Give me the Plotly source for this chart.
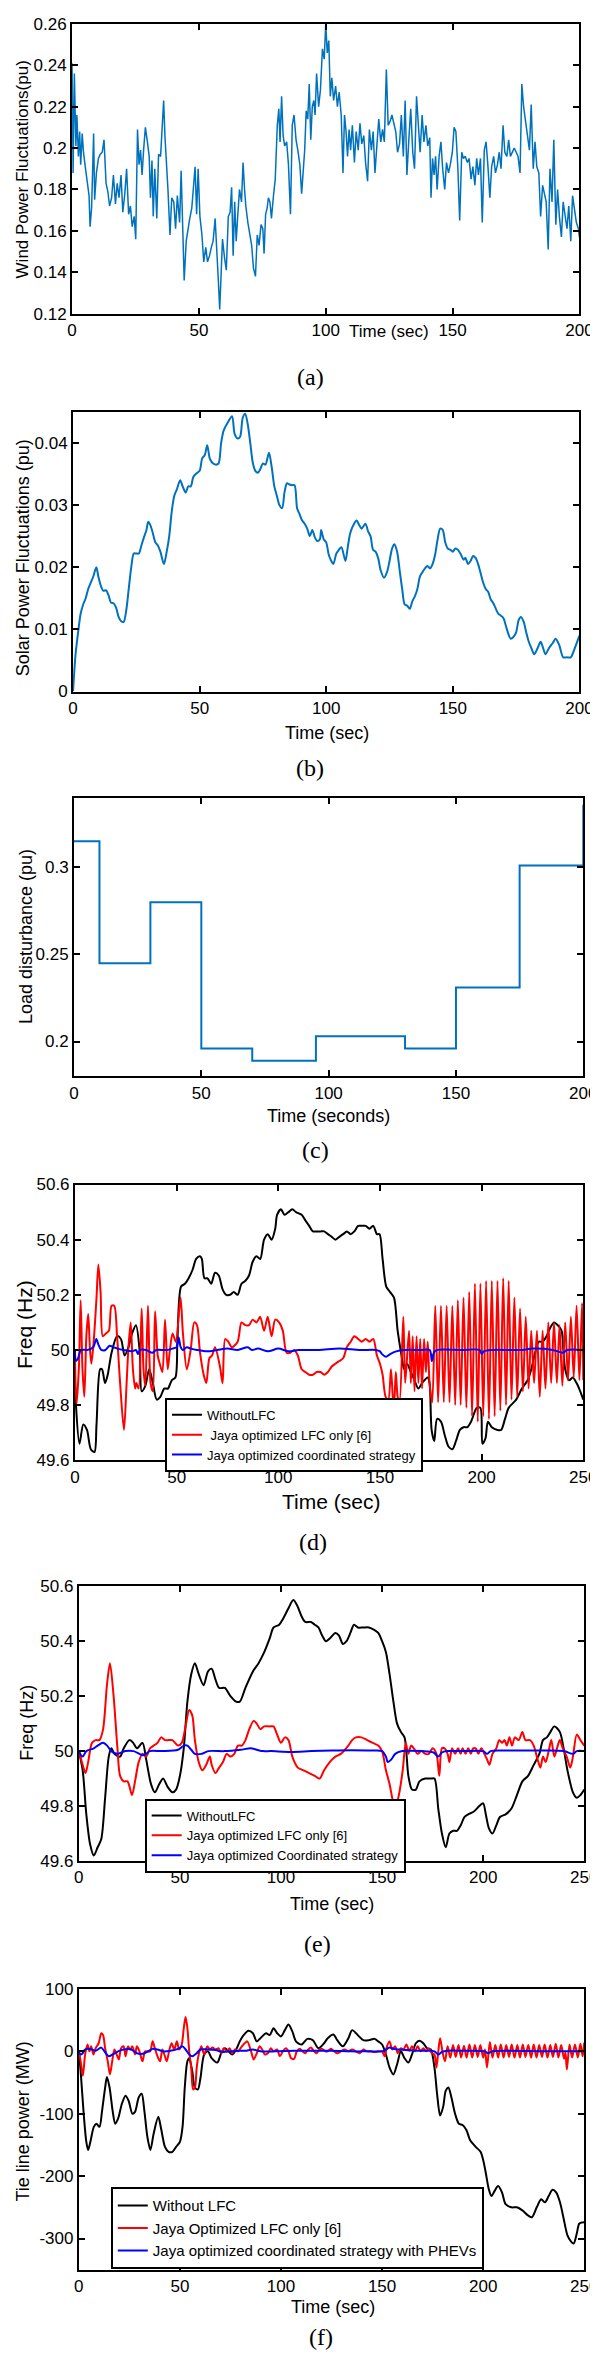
import plotly.graph_objects as go

# ---------------- data ----------------
wind_t = [0, 0.4, 0.9, 1.5, 1.9, 2.5, 3.0, 3.4, 4.0, 4.5,
          5.2, 5.9, 6.7, 7.1, 7.7, 8.5, 8.9, 9.6, 10.4, 11.1,
          11.9, 12.6, 13.4, 14.1, 14.8, 15.6, 16.3, 17.1, 17.8, 18.5,
          19.3, 20.0, 20.8, 21.5, 22.3, 23.0, 23.7, 24.5, 25.1, 25.8,
          26.4, 27.0, 27.6, 28.2, 28.9, 29.7, 30.4, 30.9, 31.5, 32.0,
          32.6, 33.4, 34.1, 34.9, 35.6, 36.1, 36.6, 37.2, 37.8, 38.6,
          39.3, 40.1, 40.8, 41.5, 42.4, 43.0, 43.6, 44.2, 45.0, 45.7,
          46.4, 47.2, 47.8, 48.5, 49.1, 49.7, 50.4, 51.2, 51.9, 52.7,
          53.4, 54.2, 54.9, 55.6, 56.4, 57.1, 57.7, 58.2, 58.8, 59.3,
          60.1, 60.8, 61.6, 62.3, 62.9, 63.5, 64.1, 64.7, 65.3, 66.0,
          66.8, 67.4, 68.0, 68.5, 69.3, 70.0, 70.8, 71.5, 72.3, 73.0,
          73.7, 74.5, 75.2, 75.7, 76.3, 76.9, 77.4, 78.0, 78.6, 79.4,
          80.1, 80.9, 81.5, 82.0, 82.6, 83.2, 83.8, 84.6, 85.3, 86.1,
          86.8, 87.5, 88.3, 89.0, 89.8, 90.5, 91.1, 91.7, 92.3, 92.9,
          93.5, 94.1, 94.7, 95.3, 95.8, 96.4, 97.2, 97.9, 98.7, 99.4,
          100.0, 100.6, 101.2, 101.8, 102.4, 103.1, 103.9, 104.6, 105.3, 106.1,
          106.8, 107.4, 108.0, 108.6, 109.2, 109.8, 110.5, 111.3, 112.0, 112.8,
          113.5, 114.2, 115.0, 115.7, 116.5, 117.2, 118.0, 118.7, 119.4, 120.2,
          120.9, 121.7, 122.4, 123.1, 123.9, 124.6, 125.4, 126.1, 126.9, 127.6,
          128.3, 129.1, 129.8, 130.6, 131.3, 132.0, 132.8, 133.5, 134.3, 135.0,
          135.8, 136.5, 137.2, 138.0, 138.7, 139.5, 140.2, 141.0, 141.5, 142.1,
          142.7, 143.3, 143.9, 144.7, 145.4, 146.1, 146.9, 147.6, 148.4, 149.1,
          149.9, 150.6, 151.3, 152.1, 152.8, 153.6, 154.3, 155.0, 155.8, 156.5,
          157.3, 158.0, 158.8, 159.5, 160.2, 161.0, 161.7, 162.5, 163.2, 163.9,
          164.7, 165.4, 166.2, 166.9, 167.7, 168.4, 169.1, 169.9, 170.6, 171.4,
          172.1, 172.8, 173.6, 174.3, 175.1, 175.8, 176.6, 177.3, 178.0, 178.8,
          179.5, 180.3, 181.0, 181.8, 182.5, 183.2, 184.0, 184.7, 185.5, 186.2,
          186.9, 187.7, 188.4, 189.2, 189.9, 190.7, 191.4, 192.1, 192.9, 193.6,
          194.4, 195.1, 195.8, 196.6, 197.3, 198.1, 198.8, 199.6, 200.0]
wind_pu = [0.241, 0.188, 0.236, 0.201, 0.216, 0.196, 0.208, 0.192, 0.207, 0.198,
           0.191, 0.183, 0.177, 0.162, 0.171, 0.207, 0.175, 0.188, 0.195, 0.197,
           0.198, 0.204, 0.183, 0.179, 0.172, 0.176, 0.187, 0.173, 0.183, 0.176,
           0.187, 0.169, 0.178, 0.190, 0.168, 0.172, 0.162, 0.167, 0.156, 0.209,
           0.192, 0.199, 0.187, 0.199, 0.210, 0.203, 0.196, 0.176, 0.194, 0.167,
           0.190, 0.166, 0.197, 0.196, 0.211, 0.223, 0.206, 0.195, 0.180, 0.158,
           0.176, 0.174, 0.161, 0.177, 0.164, 0.189, 0.158, 0.136, 0.155, 0.161,
           0.166, 0.171, 0.180, 0.191, 0.168, 0.190, 0.167, 0.158, 0.145, 0.152,
           0.145, 0.148, 0.152, 0.155, 0.166, 0.152, 0.135, 0.122, 0.147, 0.156,
           0.147, 0.141, 0.167, 0.169, 0.181, 0.148, 0.174, 0.155, 0.167, 0.180,
           0.174, 0.193, 0.180, 0.172, 0.164, 0.158, 0.153, 0.142, 0.138, 0.158,
           0.153, 0.163, 0.161, 0.149, 0.168, 0.171, 0.176, 0.174, 0.166, 0.177,
           0.185, 0.211, 0.219, 0.203, 0.225, 0.206, 0.201, 0.203, 0.192, 0.168,
           0.211, 0.216, 0.204, 0.199, 0.192, 0.178, 0.187, 0.199, 0.218, 0.214,
           0.231, 0.204, 0.220, 0.223, 0.216, 0.236, 0.220, 0.228, 0.248, 0.243,
           0.260, 0.246, 0.252, 0.225, 0.234, 0.223, 0.230, 0.220, 0.227, 0.216,
           0.188, 0.216, 0.208, 0.196, 0.209, 0.199, 0.211, 0.193, 0.208, 0.199,
           0.212, 0.202, 0.206, 0.193, 0.184, 0.209, 0.199, 0.208, 0.188, 0.201,
           0.214, 0.203, 0.209, 0.203, 0.238, 0.211, 0.213, 0.216, 0.212, 0.208,
           0.198, 0.202, 0.216, 0.196, 0.223, 0.187, 0.205, 0.219, 0.198, 0.190,
           0.225, 0.211, 0.198, 0.216, 0.203, 0.211, 0.201, 0.205, 0.176, 0.195,
           0.187, 0.196, 0.180, 0.196, 0.203, 0.190, 0.180, 0.193, 0.188, 0.192,
           0.198, 0.210, 0.208, 0.190, 0.165, 0.198, 0.195, 0.196, 0.193, 0.195,
           0.185, 0.191, 0.182, 0.195, 0.187, 0.195, 0.164, 0.199, 0.203, 0.192,
           0.176, 0.191, 0.196, 0.188, 0.192, 0.198, 0.190, 0.211, 0.198, 0.196,
           0.204, 0.196, 0.198, 0.200, 0.198, 0.196, 0.188, 0.231, 0.220, 0.212,
           0.207, 0.199, 0.221, 0.190, 0.203, 0.191, 0.188, 0.167, 0.182, 0.178,
           0.174, 0.151, 0.190, 0.174, 0.204, 0.163, 0.180, 0.167, 0.157, 0.174,
           0.167, 0.161, 0.172, 0.155, 0.177, 0.171, 0.164, 0.161, 0.157]

solar_t = [0, 1, 2, 3, 4, 5, 6, 7, 8, 9.2,
           10, 11, 12, 13, 14, 15, 16, 17, 18, 19,
           20, 21, 22, 23, 24, 25, 26, 27, 28, 29,
           29.7, 30.5, 31.5, 32.5, 33.5, 34.5, 35.9, 37, 38, 39,
           40, 41, 42.3, 43.3, 44.5, 45.5, 46.5, 47.5, 48.5, 50,
           51, 52, 53, 54, 55, 56.5, 57.5, 58.5, 59.5, 61,
           62.8, 63.8, 65, 66, 67, 68, 69, 70, 71, 72,
           73, 74, 75, 76, 77.4, 78.5, 79.5, 80.5, 81.5, 82.6,
           83.5, 84.5, 85.5, 86.5, 87.5, 88.5, 89.5, 90.5, 91.5, 92.5,
           93.5, 94.5, 95.5, 96.5, 97.5, 98, 99, 100, 101, 102,
           102.8, 104, 105, 106, 107.6, 108.5, 109.5, 111, 112, 113,
           114, 115.5, 116.5, 117.5, 118.5, 119.5, 120.5, 121.5, 122.8, 124,
           125, 126, 126.9, 128, 129, 130, 131, 132, 133, 134,
           135, 136, 137, 138, 139, 140, 141, 142, 143, 144,
           145, 146, 147, 148, 149, 150, 151, 152, 153, 154.3,
           155, 156, 157, 158, 159, 160, 161, 162, 163, 164,
           165, 166, 167, 168, 169, 170, 171, 172, 172.8, 174,
           175, 176, 176.9, 178, 179, 180, 181, 182.2, 183.5, 184.7,
           185.5, 186.6, 188, 189.5, 190.6, 192, 193.6, 195, 196.6, 198,
           200]
solar_pu = [0.0, 0.006, 0.0095, 0.0125, 0.014, 0.015, 0.0165, 0.0175, 0.0185, 0.020,
            0.0185, 0.017, 0.0162, 0.0163, 0.0155, 0.0143, 0.0142, 0.0135, 0.012, 0.0113,
            0.0112, 0.013, 0.0165, 0.020, 0.0222, 0.0222, 0.0222, 0.0235, 0.0248, 0.026,
            0.0273, 0.0268, 0.0255, 0.024, 0.0235, 0.0225, 0.0205, 0.0225, 0.025, 0.029,
            0.0315, 0.0325, 0.034, 0.033, 0.032, 0.033, 0.033, 0.0345, 0.035, 0.0355,
            0.0375, 0.038, 0.0396, 0.0375, 0.0368, 0.0365, 0.0367, 0.040, 0.042, 0.0432,
            0.0443, 0.0415, 0.0407, 0.041, 0.044, 0.0447, 0.043, 0.040, 0.0368, 0.0355,
            0.0352, 0.0358, 0.0367, 0.0365, 0.0384, 0.036, 0.033, 0.0315, 0.030, 0.0295,
            0.032, 0.0335, 0.0333, 0.0332, 0.0332, 0.0295, 0.0285, 0.0275, 0.027, 0.0262,
            0.025, 0.026, 0.0248, 0.0242, 0.0245, 0.026, 0.0245, 0.024, 0.022, 0.021,
            0.0205, 0.0222, 0.0228, 0.0232, 0.021, 0.0232, 0.0255, 0.027, 0.0275, 0.0268,
            0.0262, 0.027, 0.0258, 0.025, 0.0228, 0.0225, 0.0215, 0.0195, 0.0183, 0.0192,
            0.021, 0.023, 0.0237, 0.0225, 0.0195, 0.0165, 0.014, 0.0138, 0.0133, 0.0145,
            0.0153, 0.0165, 0.0185, 0.0192, 0.0198, 0.0202, 0.0198, 0.0205, 0.022, 0.0245,
            0.0262, 0.026, 0.024, 0.023, 0.0228, 0.0225, 0.023, 0.0228, 0.0222, 0.0212,
            0.0215, 0.0205, 0.021, 0.0218, 0.0215, 0.0205, 0.019, 0.0175, 0.0165, 0.016,
            0.0148, 0.0142, 0.0133, 0.0125, 0.0122, 0.0118, 0.0105, 0.0092, 0.0085, 0.0088,
            0.0095, 0.0115, 0.012, 0.0112, 0.0095, 0.008, 0.007, 0.006, 0.007, 0.008,
            0.0072, 0.006, 0.007, 0.0078, 0.0085, 0.0075, 0.0055, 0.0055, 0.0055, 0.0068,
            0.009]

load_t = [0, 10, 30, 50, 70, 95, 130, 150, 175, 200]
load_pu = [0.315, 0.245, 0.28, 0.196, 0.189, 0.203, 0.196, 0.231, 0.301, 0.336]

# (d) frequency, case 1
d_black_t = [0, 0.4, 2.2, 4.1, 5.9, 7.8, 9.6, 10.6, 12.4, 13.3,
             14.8, 16.1, 18.0, 20.7, 22.6, 24.4, 26.3, 28.1, 30.0, 31.9,
             32.8, 34.6, 36.5, 38.3, 40.2, 42.0, 43.9, 45.7, 47.6, 49.4,
             50.4, 52.2, 54.1, 55.9, 57.8, 59.6, 61.5, 62.4, 63.7, 65.2,
             67.0, 68.9, 70.7, 72.6, 74.4, 76.3, 78.1, 80.0, 81.9, 83.7,
             85.6, 87.4, 89.3, 91.1, 93.0, 94.8, 96.7, 98.5, 99.4, 101.3,
             103.1, 105.0, 106.9, 108.7, 111.5, 113.3, 115.2, 117.0, 118.9, 120.7,
             122.6, 124.4, 126.3, 128.1, 130.0, 131.9, 133.7, 135.6, 137.4, 139.3,
             141.1, 143.0, 144.8, 146.7, 148.5, 149.8, 151.3, 153.1, 155.0, 156.9,
             158.7, 160.6, 161.9, 163.3, 165.2, 167.0, 168.9, 170.7, 173.5, 174.4,
             175.4, 176.7, 178.1, 180.0, 181.9, 183.7, 185.6, 187.4, 189.3, 191.1,
             193.0, 194.8, 197.6, 199.4, 200.4, 201.9, 203.1, 205.0, 207.8, 209.6,
             211.5, 213.3, 217.0, 219.8, 222.6, 224.4, 226.3, 228.1, 230.0, 231.9,
             233.7, 235.6, 237.4, 239.3, 240.2, 241.1, 243.0, 244.8, 246.7, 248.5,
             250.0]
d_black_hz = [49.88, 49.81, 49.66, 49.73, 49.71, 49.64, 49.63, 49.73, 49.93, 49.93,
              49.88, 49.91, 49.99, 50.05, 50.04, 49.98, 50.01, 50.06, 50.09, 49.99,
              49.85, 49.87, 49.93, 49.88, 49.82, 49.83, 49.86, 49.86, 49.89, 49.90,
              50.04, 50.23, 50.24, 50.26, 50.29, 50.33, 50.34, 50.33, 50.26, 50.26,
              50.24, 50.28, 50.27, 50.22, 50.20, 50.20, 50.21, 50.20, 50.24, 50.25,
              50.27, 50.32, 50.34, 50.33, 50.40, 50.42, 50.40, 50.44, 50.49, 50.51,
              50.49, 50.50, 50.51, 50.50, 50.49, 50.47, 50.45, 50.43, 50.43, 50.43,
              50.43, 50.42, 50.41, 50.40, 50.41, 50.42, 50.43, 50.42, 50.43, 50.45,
              50.45, 50.45, 50.44, 50.45, 50.42, 50.42, 50.33, 50.23, 50.21, 50.19,
              50.07, 49.98, 49.93, 49.95, 49.92, 49.89, 49.86, 49.88, 49.90, 49.88,
              49.71, 49.67, 49.75, 49.74, 49.69, 49.65, 49.64, 49.67, 49.71, 49.72,
              49.72, 49.74, 49.79, 49.79, 49.66, 49.68, 49.74, 49.72, 49.71, 49.71,
              49.75, 49.79, 49.82, 49.86, 49.89, 49.93, 49.99, 50.03, 50.03, 50.05,
              50.08, 50.10, 50.09, 50.07, 50.00, 49.93, 49.89, 49.90, 49.88, 49.85,
              49.82]
d_red_t = [0, 0.7, 1.9, 2.8, 3.7, 4.6, 5.6, 6.5, 7.4, 8.1,
           9.3, 10.6, 11.5, 12.6, 13.7, 15.2, 16.7, 18.0, 19.3, 20.7,
           22.2, 24.1, 25.4, 26.3, 27.4, 28.5, 29.6, 30.2, 31.3, 32.8,
           33.7, 34.6, 35.9, 37.2, 38.3, 39.4, 40.7, 41.7, 43.0, 44.3,
           45.6, 46.7, 48.0, 49.6, 51.9, 53.1, 55.0, 56.9, 58.7, 60.0,
           61.5, 63.3, 64.6, 66.1, 67.4, 68.9, 71.3, 72.6, 73.9, 75.4,
           77.2, 80.0, 81.9, 83.7, 85.6, 87.4, 89.3, 91.1, 93.0, 94.8,
           96.7, 98.5, 100.4, 102.2, 104.1, 105.9, 107.8, 109.6, 111.5, 113.3,
           115.2, 117.0, 118.9, 120.7, 122.6, 124.4, 126.3, 128.1, 130.0, 131.9,
           133.7, 135.6, 137.4, 139.3, 141.1, 143.0, 144.8, 146.7, 148.5, 150.0,
           151.3, 152.8, 154.1, 155.4, 156.3, 156.9, 157.8, 158.7, 159.6, 161.5,
           162.4, 164.3, 165.2, 166.1, 167.0, 168.0, 168.9, 169.8, 170.7, 171.7,
           172.6, 173.5, 174.4, 175.7,
           177.2, 178.6, 180.0, 181.4, 182.8, 184.2, 185.6, 187.0, 188.3, 189.7,
           191.1, 192.5, 193.9, 195.3, 196.7, 198.1, 199.4, 200.8, 202.2, 203.6,
           205.0, 206.4, 207.8, 209.2, 210.6, 212.0, 213.3, 214.7, 216.1, 217.5,
           218.9, 220.3, 221.7, 223.1, 224.4, 225.8, 227.2, 228.6, 230.0, 231.4,
           232.8, 234.2, 235.6, 237.0, 238.3, 239.7, 241.1, 242.5, 243.9, 245.3,
           246.7, 248.1, 249.4, 250.0]
d_red_hz = [49.99, 49.80, 49.93, 50.18, 49.93, 49.83, 50.05, 50.13, 50.00, 49.95,
            50.04, 50.19, 50.31, 50.21, 50.05, 50.06, 50.07, 50.16, 50.16, 50.05,
            49.88, 49.71, 49.88, 50.01, 50.10, 49.93, 49.86, 49.88, 49.86, 50.15,
            49.93, 49.87, 50.16, 49.88, 49.85, 50.14, 49.98, 49.95, 49.92, 50.11,
            49.93, 50.00, 50.06, 50.03, 50.19, 50.06, 49.93, 50.00, 50.10, 50.09,
            49.99, 49.91, 49.88, 49.97, 49.98, 50.01, 49.94, 49.88, 50.04, 50.03,
            50.01, 50.03, 50.10, 50.09, 50.09, 50.11, 50.10, 50.12, 50.07, 50.12,
            50.05, 50.11, 50.10, 50.07, 49.99, 49.99, 50.00, 49.98, 49.93, 49.92,
            49.91, 49.91, 49.92, 49.92, 49.91, 49.92, 49.94, 49.95, 49.96, 49.97,
            50.01, 50.03, 50.05, 50.04, 50.03, 50.04, 50.03, 50.04, 49.98, 49.95,
            49.91, 49.83, 49.82, 49.93, 49.83, 49.79, 49.92, 49.83, 49.81, 50.12,
            49.88, 50.07, 49.88, 50.05, 49.85, 50.05, 49.88, 50.04, 49.86, 50.04,
            49.92, 50.03, 49.88, 49.81,
            50.16, 49.81, 50.16, 49.81, 50.16, 49.81, 50.16, 49.80, 50.18, 49.80,
            50.19, 49.79, 50.21, 49.76, 50.24, 49.74, 50.24, 49.76, 50.25, 49.75,
            50.25, 49.76, 50.25, 49.78, 50.26, 49.80, 50.25, 49.82, 50.19, 49.83,
            50.15, 49.85, 50.12, 49.86, 50.07, 49.88, 50.07, 49.83, 50.07, 49.86,
            50.10, 49.88, 50.10, 49.88, 50.09, 49.87, 50.10, 49.89, 50.12, 49.90,
            50.16, 49.89, 50.17, 49.89]
d_blue_t = [0, 0.5, 1.5, 3, 6, 9, 10.5, 11.5, 13, 15,
            17, 19, 21, 24, 28, 30, 31, 32, 35, 38,
            40, 45, 48, 50, 51, 52, 53, 55, 57, 60,
            65, 70, 75, 80, 85, 87, 90, 95, 100, 105,
            110, 120, 130, 140, 148, 150, 151, 153, 155, 158,
            162, 170, 174.5, 175.5, 176.5, 178, 190, 199, 200, 201,
            205, 220, 225, 235, 240, 242, 250]
d_blue_hz = [50.0, 49.96, 49.97, 50.0, 50.0, 50.01, 50.04, 50.02, 50.0, 50.0,
             50.015, 50.01, 50.005, 50.0, 49.995, 50.0, 49.985, 50.0, 50.0, 49.99,
             50.0, 50.0, 50.005, 50.01, 50.045, 50.01, 50.0, 50.01, 50.005, 50.0,
             49.995, 50.0, 50.005, 50.0, 50.01, 50.0, 50.005, 49.995, 50.005, 49.995,
             50.0, 50.0, 50.005, 50.0, 50.0, 49.995, 49.985, 49.975, 49.985, 49.995,
             50.0, 50.0, 50.0, 49.96, 49.99, 50.0, 50.0, 50.0, 49.985, 49.995,
             50.0, 50.0, 50.005, 50.0, 49.99, 50.0, 50.0]

# (e) frequency, case 2
e_black_t = [0, 1.9, 3.7, 5.6, 7.4, 9.3, 11.1, 13.0, 14.8, 16.1,
             17.6, 20.4, 22.2, 25.0, 26.9, 28.7, 31.5, 33.3, 35.7, 37.6,
             39.8, 41.7, 43.9, 46.3, 48.1, 50.0, 51.9, 53.7, 55.6, 57.4,
             59.3, 61.7, 63.9, 65.7, 67.6, 69.4, 72.2, 75.0, 77.8, 79.6,
             82.4, 86.1, 88.9, 91.7, 94.4, 96.3, 99.1, 100.9, 103.7, 106.1,
             108.0, 110.2, 112.0, 114.8, 116.7, 118.5, 120.4, 122.2, 124.1, 126.9,
             128.7, 130.6, 132.4, 134.3, 136.1, 138.0, 140.7, 143.5, 146.3, 148.1,
             150.0, 151.9, 153.7, 155.6, 157.4, 159.3, 161.1, 163.0, 164.8, 166.7,
             168.5, 171.3, 174.1, 175.9, 177.8, 179.6, 181.5, 183.3, 185.2, 187.0,
             188.9, 190.7, 192.6, 195.4, 198.1, 200.0, 201.3, 202.8, 204.6, 206.5,
             208.3, 211.1, 213.9, 216.7, 219.4, 222.2, 225.0, 227.8, 229.6, 231.5,
             233.3, 235.2, 237.9, 239.8, 241.7, 244.4, 246.3, 248.1, 250.0]
e_black_hz = [50.0, 49.93, 49.77, 49.66, 49.62, 49.65, 49.68, 49.83, 49.98, 50.01,
              49.99, 49.98, 50.01, 50.04, 50.03, 50.01, 50.03, 49.97, 49.88, 49.85,
              49.88, 49.90, 49.87, 49.85, 49.86, 49.91, 50.01, 50.18, 50.28, 50.32,
              50.28, 50.24, 50.29, 50.30, 50.26, 50.23, 50.23, 50.20, 50.18, 50.18,
              50.23, 50.29, 50.32, 50.36, 50.41, 50.45, 50.46, 50.48, 50.52, 50.55,
              50.53, 50.49, 50.47, 50.47, 50.46, 50.45, 50.42, 50.40, 50.41, 50.43,
              50.42, 50.39, 50.40, 50.43, 50.46, 50.45, 50.45, 50.45, 50.44, 50.43,
              50.40, 50.36, 50.28, 50.18, 50.10, 50.07, 50.05, 49.91, 49.86, 49.86,
              49.89, 49.90, 49.90, 49.90, 49.79, 49.70, 49.65, 49.70, 49.71, 49.71,
              49.73, 49.76, 49.77, 49.78, 49.80, 49.81, 49.77, 49.72, 49.70, 49.73,
              49.76, 49.77, 49.79, 49.84, 49.89, 49.91, 49.95, 49.99, 50.04, 50.05,
              50.07, 50.09, 50.07, 50.01, 49.93, 49.85, 49.83, 49.84, 49.86]
e_red_t = [0, 1.9, 3.3, 4.6, 6.5, 8.3, 10.2, 12.0, 13.9, 15.4,
           17.2, 19.1, 20.4, 22.2, 24.1, 26.3, 27.8, 29.6, 31.5, 33.3,
           35.2, 37.0, 38.9, 40.7, 42.6, 44.4, 46.3, 49.1, 50.9, 52.8,
           54.6, 56.1, 57.4, 59.3, 61.1, 63.0, 64.8, 65.7, 67.6, 69.4,
           71.3, 73.1, 75.0, 76.9, 78.7, 80.6, 82.4, 84.3, 86.5, 88.0,
           89.8, 91.7, 94.4, 96.3, 98.1, 100.0, 101.9, 103.7, 105.6, 108.3,
           111.1, 113.9, 116.7, 119.1, 121.3, 124.1, 126.9, 129.6, 133.3, 135.2,
           137.0, 139.8, 142.6, 145.4, 148.1, 150.0, 151.9, 153.7, 155.0, 156.5,
           158.3, 160.2, 161.7, 163.0, 164.3, 165.7, 167.6, 169.4, 171.3, 173.1,
           175.0, 176.9, 178.3, 179.6, 180.9, 182.4, 183.3, 184.6, 186.1, 187.6,
           188.9, 189.8, 191.3, 192.6, 193.9, 195.0, 196.3, 197.6, 199.1, 200.6,
           201.9, 203.1, 204.6, 206.5, 207.9, 209.3, 210.6, 211.7, 213.0, 214.3,
           215.7, 217.6, 219.4, 220.9, 223.1, 225.0, 226.9, 228.3, 229.6, 230.9,
           232.4, 233.7, 235.2, 236.5, 237.9, 239.4, 241.3, 243.1, 244.4, 246.3,
           248.1, 250.0]
e_red_hz = [50.0, 49.95, 49.92, 49.96, 50.03, 50.04, 50.04, 50.08, 50.24, 50.32,
            50.20, 50.01, 49.91, 49.89, 49.89, 49.84, 49.89, 49.96, 49.99, 49.98,
            50.01, 50.02, 50.03, 50.05, 50.04, 50.04, 50.04, 50.02, 50.03, 50.09,
            50.15, 50.13, 50.04, 49.96, 49.93, 49.95, 49.98, 49.95, 49.92, 49.94,
            49.96, 49.99, 49.98, 49.99, 50.02, 50.02, 50.04, 50.08, 50.11, 50.10,
            50.08, 50.09, 50.09, 50.09, 50.06, 50.03, 50.05, 50.04, 49.98, 49.94,
            49.93, 49.92, 49.91, 49.90, 49.93, 49.96, 49.98, 49.99, 50.02, 50.04,
            50.05, 50.05, 50.04, 50.03, 50.02, 50.00, 49.93, 49.88, 49.83, 49.79,
            49.84, 49.93, 50.03, 49.99, 50.02, 50.01, 49.99, 50.00, 49.99, 49.99,
            50.01, 49.99, 49.91, 50.01, 50.01, 49.99, 49.96, 50.01, 49.99, 50.01,
            49.99, 50.01, 49.99, 50.01, 49.99, 50.01, 50.01, 49.99, 50.01, 49.99,
            49.97, 49.95, 49.99, 50.01, 50.04, 50.03, 50.04, 50.02, 50.05, 50.02,
            50.05, 50.04, 50.07, 50.04, 50.04, 50.02, 49.97, 49.94, 49.98, 49.96,
            50.00, 50.04, 49.98, 50.01, 50.04, 50.01, 49.98, 49.94, 49.98, 50.06,
            50.04, 50.02]
e_blue_t = [0, 1.9, 3.7, 7.4, 9.3, 12.0, 14.0, 16.0, 19.0, 23.0,
            27.0, 30.0, 31.5, 33.3, 35.0, 41.7, 49.0, 51.9, 53.7, 55.6,
            57.4, 60.7, 64.0, 72.0, 80.0, 85.0, 88.0, 91.0, 95.0, 105.0,
            115.0, 125.0, 135.0, 145.0, 150.0, 151.9, 152.8, 154.6, 156.5, 160.0,
            170.0, 175.5, 177.8, 179.6, 182.0, 190.0, 200.0, 201.9, 203.7, 210.0,
            230.0, 240.0, 244.4, 246.3, 250.0]
e_blue_hz = [50.0, 49.98, 50.0, 50.01, 50.02, 50.03, 50.02, 50.0, 49.99, 50.0,
             50.0, 49.99, 49.985, 49.99, 50.0, 50.0, 50.005, 50.02, 50.02, 50.005,
             49.99, 49.99, 50.0, 50.0, 50.005, 50.01, 50.005, 50.0, 50.0, 49.997,
             50.0, 50.002, 50.003, 50.002, 50.0, 49.98, 49.96, 49.97, 49.99, 50.0,
             50.0, 49.995, 49.98, 49.995, 50.0, 50.0, 50.0, 49.99, 50.0, 50.002,
             50.002, 50.0, 49.99, 50.0, 50.0]

# (f) tie-line power
f_black_t = [0, 0.9, 2.4, 3.7, 4.6, 5.9, 7.4, 8.7, 10.2, 11.5,
             13.0, 13.9, 15.2, 16.7, 18.0, 19.4, 21.3, 23.1, 24.6, 26.5,
             27.8, 29.6, 31.1, 32.4, 33.9, 35.4, 37.0, 39.3, 40.7, 42.6,
             44.4, 46.3, 48.1, 50.0, 51.3, 52.4, 53.7, 54.6, 56.1, 57.4,
             58.9, 60.2, 62.0, 63.9, 65.7, 68.5, 70.4, 72.2, 74.1, 75.9,
             77.8, 79.6, 81.5, 83.9, 86.1, 88.0, 89.8, 92.6, 94.4, 96.3,
             98.1, 100.0, 101.9, 103.7, 105.6, 107.4, 110.2, 113.0, 115.7, 118.5,
             121.3, 123.1, 125.9, 127.8, 130.6, 133.3, 135.2, 138.0, 140.7, 143.5,
             146.3, 148.1, 150.0, 151.9, 153.7, 155.6, 157.4, 159.3, 161.1, 163.0,
             164.8, 166.7, 168.5, 170.4, 172.2, 174.1, 175.9, 177.2, 178.7, 180.2,
             181.5, 182.8, 184.3, 186.1, 188.0, 189.8, 191.7, 193.5, 196.3, 198.7,
             200.0, 201.3, 202.8, 204.1, 205.6, 207.4, 209.3, 211.1, 213.9, 216.7,
             219.4, 222.2, 224.1, 226.5, 228.7, 230.6, 232.4, 234.3, 236.1, 238.0,
             239.8, 241.7, 243.5, 244.8, 246.3, 247.6, 250.0]
f_black_mw = [0, -32, -100, -145, -158, -142, -121, -116, -121, -95,
              -58, -41, -58, -95, -116, -108, -84, -71, -79, -100,
              -97, -74, -68, -95, -137, -158, -132, -105, -124, -153,
              -161, -161, -153, -145, -121, -58, -16, -11, -32, -58,
              -61, -42, -5, 0, -11, -18, -3, 5, 0, -5,
              3, 16, 26, 33, 29, 16, 21, 29, 26, 37,
              29, 24, 34, 43, 32, 16, 11, 20, 18, 5,
              13, 21, 27, 18, 8, 21, 34, 26, 18, 18,
              20, 16, 11, -5, -26, -37, -21, 0, -11, -18,
              -5, 13, 17, 13, 5, 3, -26, -68, -103, -89,
              -63, -58, -74, -100, -116, -118, -126, -142, -153, -161,
              -174, -195, -221, -232, -224, -216, -226, -245, -250, -250,
              -255, -263, -266, -250, -237, -242, -232, -222, -226, -242,
              -268, -295, -305, -308, -292, -276, -274]
f_red_t = [0, 0.9, 2.0, 3.1, 4.3, 5.2, 6.1, 7.2, 8.3, 9.8,
           11.1, 12.0, 13.0, 14.3, 15.4, 16.5, 17.6, 18.7, 19.8, 20.9,
           22.2, 23.1, 24.3, 25.4, 26.5, 27.8, 28.7, 30.0, 31.5, 32.8,
           35.2, 36.5, 37.6, 38.9, 40.2, 41.3, 42.6, 43.5, 44.8, 45.9,
           47.2, 48.5, 49.6, 50.9, 51.9, 52.8, 53.7, 54.6, 55.6, 56.5,
           57.4, 58.3, 59.3, 60.6, 62.0, 63.5, 64.8, 66.1, 67.6, 69.1,
           70.4, 71.7, 73.1, 74.6, 75.9, 77.2, 78.7, 80.2, 82.0, 83.3,
           85.2, 86.5, 88.0, 89.4, 90.7, 92.0, 93.5, 95.0, 96.3, 98.1,
           99.4, 100.9, 102.4, 103.7, 105.0, 106.5, 107.8, 109.3, 110.6, 112.0,
           113.5, 114.8, 116.1, 117.6, 119.1, 120.4, 121.9, 123.1, 124.6, 125.9,
           127.8, 129.6, 131.5, 133.3, 135.2, 137.0, 138.9, 140.7, 142.6, 144.4,
           146.3, 148.1, 150.0, 151.3, 152.4, 153.7, 155.0, 156.5, 157.8, 159.3,
           160.6, 162.0, 163.5, 164.8, 166.3, 167.6, 169.1, 170.4, 171.9, 173.1,
           174.6, 175.9, 176.9, 177.8, 178.7, 180.0, 181.1, 182.4,
           183.7, 185.1, 186.4, 187.8, 189.1, 190.5, 191.8, 193.2, 194.6, 195.9,
           197.3, 198.6, 200.0, 200.9, 201.9, 203.3, 204.6, 206.0, 207.4, 208.7,
           210.1, 211.4, 212.8, 214.1, 215.5, 216.9, 218.2, 219.6, 220.9, 222.3,
           223.7, 225.0, 226.4, 227.7, 229.1, 230.4, 231.8, 233.2, 234.5, 235.9,
           237.2, 238.6, 240.0, 240.7, 241.4, 242.7, 244.0, 245.4, 246.8, 248.1,
           249.2, 250.0]
f_red_mw = [0, -16, -39, -5, 11, 0, 8, -5, 5, 13,
            29, 26, 5, -16, -37, -16, 3, -5, -13, 5,
            8, -8, 8, 3, 8, -5, 8, 0, -16, 0,
            0, 16, 5, -8, -16, 3, -8, -16, 3, 13,
            3, 16, 3, 11, 37, 55, 37, 0, -26, -61,
            -58, -26, -5, 8, -5, 8, 3, 6, 3, 5,
            -3, 5, 0, 5, -3, 3, 0, 6, 13, 16,
            0, -13, -3, 8, 3, -5, -3, 5, 0, 3,
            -8, 0, 5, 0, -11, -12, 0, 4, 0, -3,
            3, 6, 1, -3, 3, 4, 0, 0, 4, 1,
            -3, 0, 3, 0, 3, 0, -3, 3, 0, 0,
            -1, 0, 0, -8, 8, 16, 3, 8, -3, 5,
            3, 11, 1, 8, 0, 8, 0, 5, 0, 5,
            -3, -5, -26, 0, 21, -3, -16, 8,
            -10, 10, -9, 10, -10, 9, -10, 11, -10, 10,
            -9, 10, -10, 3, -26, 15, -10, 10, -10, 11,
            -10, 10, -9, 11, -10, 10, -10, 11, -9, 10,
            -10, 11, -10, 10, -9, 11, -10, 10, -9, 12,
            -10, 10, -12, -2, -29, 11, -10, 11, -10, 12,
            -8, 14]
f_blue_t = [0, 0.9, 1.9, 2.8, 4.3, 6.5, 8.3, 11.1, 12.9, 14.8,
            16.7, 19.4, 22.2, 25.9, 28.7, 31.5, 34.3, 36.5, 38.9, 41.7,
            45.4, 49.1, 51.3, 52.8, 54.6, 56.1, 58.3, 60.2, 63.9, 67.6,
            71.3, 75.0, 78.7, 82.4, 86.1, 89.8, 97.2, 106.5, 115.7, 125.0,
            134.3, 143.5, 150.0, 151.9, 153.7, 155.6, 158.3, 167.6, 173.1, 175.9,
            177.8, 179.6, 182.4, 189.8, 200.9, 202.4, 204.6, 230.0, 250.0]
f_blue_mw = [0, -5, -3, 2, 4, 3, 1, 6, -1, -8,
             -5, 0, 3, 3, -3, -4, 0, 4, 3, 0,
             1, 4, 8, 3, -5, -8, -3, 3, 3, 2,
             -1, 0, 1, 1, 3, 0, 0, 1, 1, 1,
             0, 0, 0, 3, 6, 4, 3, 1, 1, 0,
             -5, -1, 1, 1, 0, -3, 0, 0, 0]

for a, b in [(wind_t, wind_pu), (solar_t, solar_pu), (load_t, load_pu),
             (d_black_t, d_black_hz), (d_red_t, d_red_hz), (d_blue_t, d_blue_hz),
             (e_black_t, e_black_hz), (e_red_t, e_red_hz), (e_blue_t, e_blue_hz),
             (f_black_t, f_black_mw), (f_red_t, f_red_mw), (f_blue_t, f_blue_mw)]:
    assert len(a) == len(b), (len(a), len(b))

# ---------------- layout helpers ----------------
W, H = 598, 2357
SANS = "Arial, Liberation Sans, Helvetica, sans-serif"
SERIF = "Times New Roman, Liberation Serif, serif"
MBLUE = "#0072BD"


def px(x):
    return x / W


def py(y):
    return 1 - y / H


# panel boxes in pixels: left, right, top, bottom
boxes = [(61, 585, 7, 299), (62, 585, 398, 680), (63, 589, 787, 1068),
         (64, 589, 1177, 1455), (68, 590, 1582, 1859), (68, 590, 1988, 2271)]

fig = go.Figure()


def add(x, y, i, color, width, name=None, legend=None, shape="linear"):
    sfx = "" if i == 1 else str(i)
    fig.add_trace(go.Scatter(
        x=x, y=y, mode="lines", name=name,
        line=dict(color=color, width=width, shape=shape,
                  smoothing=0.8 if shape == "spline" else None),
        xaxis="x" + sfx, yaxis="y" + sfx,
        showlegend=legend is not None, legend=legend, hoverinfo="skip"))


add(wind_t, wind_pu, 1, MBLUE, 1.5)
add(solar_t, solar_pu, 2, MBLUE, 2, shape="spline")
add(load_t, load_pu, 3, MBLUE, 2, shape="hv")
add(d_black_t, d_black_hz, 4, "black", 2, "WithoutLFC", "legend", "spline")
add(d_red_t, d_red_hz, 4, "#FF0000", 2, " Jaya optimized LFC only [6]", "legend", "spline")
add(d_blue_t, d_blue_hz, 4, "#0000FF", 2, "Jaya optimized coordinated strategy", "legend", "spline")
add(e_black_t, e_black_hz, 5, "black", 2, "WithoutLFC", "legend2", "spline")
add(e_red_t, e_red_hz, 5, "#FF0000", 2, "Jaya optimized LFC only [6]", "legend2", "spline")
add(e_blue_t, e_blue_hz, 5, "#0000FF", 2, "Jaya optimized Coordinated strategy", "legend2", "spline")
add(f_black_t, f_black_mw, 6, "black", 2, "Without LFC", "legend3", "spline")
add(f_red_t, f_red_mw, 6, "#FF0000", 2, "Jaya Optimized LFC only [6]", "legend3", "spline")
add(f_blue_t, f_blue_mw, 6, "#0000FF", 2, "Jaya optimized coordinated strategy with PHEVs", "legend3", "spline")

xranges = [[0, 200]] * 3 + [[0, 250]] * 3
xticks = [[0, 50, 100, 150, 200]] * 3 + [[0, 50, 100, 150, 200, 250]] * 3
yranges = [[0.12, 0.26], [0, 0.045], [0.18, 0.34], [49.6, 50.6], [49.6, 50.6], [-350, 100]]
yticks = [
    ([0.12, 0.14, 0.16, 0.18, 0.2, 0.22, 0.24, 0.26],
     ["0.12", "0.14", "0.16", "0.18", "0.2", "0.22", "0.24", "0.26"]),
    ([0, 0.01, 0.02, 0.03, 0.04], ["0", "0.01", "0.02", "0.03", "0.04"]),
    ([0.2, 0.25, 0.3], ["0.2", "0.25", "0.3"]),
    ([49.6, 49.8, 50, 50.2, 50.4, 50.6], ["49.6", "49.8", "50", "50.2", "50.4", "50.6"]),
    ([49.6, 49.8, 50, 50.2, 50.4, 50.6], ["49.6", "49.8", "50", "50.2", "50.4", "50.6"]),
    ([-300, -200, -100, 0, 100], ["-300", "-200", "-100", "0", "100"]),
]

common = dict(showline=True, linewidth=2, linecolor="black", mirror="allticks",
              ticks="inside", ticklen=6, tickwidth=1.5, tickcolor="black",
              showgrid=False, zeroline=False, fixedrange=True,
              ticklabeloverflow="allow",
              tickfont=dict(family=SANS, size=17, color="black"))

layout = dict(width=W, height=H, margin=dict(l=0, r=0, t=0, b=0),
              paper_bgcolor="white", plot_bgcolor="white", showlegend=True)

for i, (l, r, t, b) in enumerate(boxes, start=1):
    sfx = "" if i == 1 else str(i)
    layout["xaxis" + sfx] = dict(common, domain=[px(l), px(r)], range=xranges[i - 1],
                                 tickvals=xticks[i - 1], anchor="y" + sfx)
    tv, tt = yticks[i - 1]
    layout["yaxis" + sfx] = dict(common, domain=[py(b), py(t)], range=yranges[i - 1],
                                 tickvals=tv, ticktext=tt, anchor="x" + sfx)

leg_common = dict(xanchor="left", yanchor="top", bgcolor="white", bordercolor="black",
                  borderwidth=2, itemwidth=30, tracegroupgap=0, traceorder="normal")
layout["legend"] = dict(leg_common, x=px(157), y=py(1392),
                        font=dict(family=SANS, size=13, color="black"))
layout["legend2"] = dict(leg_common, x=px(136), y=py(1796),
                         font=dict(family=SANS, size=13, color="black"))
layout["legend3"] = dict(leg_common, x=px(101), y=py(2188),
                         font=dict(family=SANS, size=15, color="black"))

ann = []


def text(s, x, y, size, family=SANS, angle=0, xref="paper"):
    ann.append(dict(text=s, x=x, y=y, xref=xref, yref="paper", showarrow=False,
                    xanchor="center", yanchor="middle", textangle=angle,
                    font=dict(family=family, size=size, color="black")))


# panel captions
for lab, cx, cy in [("(a)", 307, 363), ("(b)", 307, 757), ("(c)", 312, 1142),
                    ("(d)", 310, 1537), ("(e)", 315, 1943), ("(f)", 318, 2339)]:
    text(lab, px(cx), py(cy), 24, SERIF)

# x-axis titles
text("Time (sec)", 125, py(317), 17, xref="x")
text("Time (sec)", px(324), py(722), 18)
text("Time (seconds)", px(326), py(1108), 18)
text("Time (sec)", px(328), py(1497), 21)
text("Time (sec)", px(329), py(1902), 18)
text("Time (sec)", px(331), py(2309), 18)

# y-axis titles
text("Wind Power Fluctuations(pu)", px(10), py(154), 17, angle=-90)
text("Solar Power Fluctuations (pu)", px(10), py(545), 18, angle=-90)
text("Load disturbance (pu)", px(13), py(927), 18, angle=-90)
text("Freq (Hz)", px(12), py(1318), 21, angle=-90)
text("Freq (Hz)", px(15), py(1720), 18, angle=-90)
text("Tie line power (MW)", px(10), py(2122), 18, angle=-90)

layout["annotations"] = ann
fig.update_layout(**layout)
fig.write_html("out.html")
